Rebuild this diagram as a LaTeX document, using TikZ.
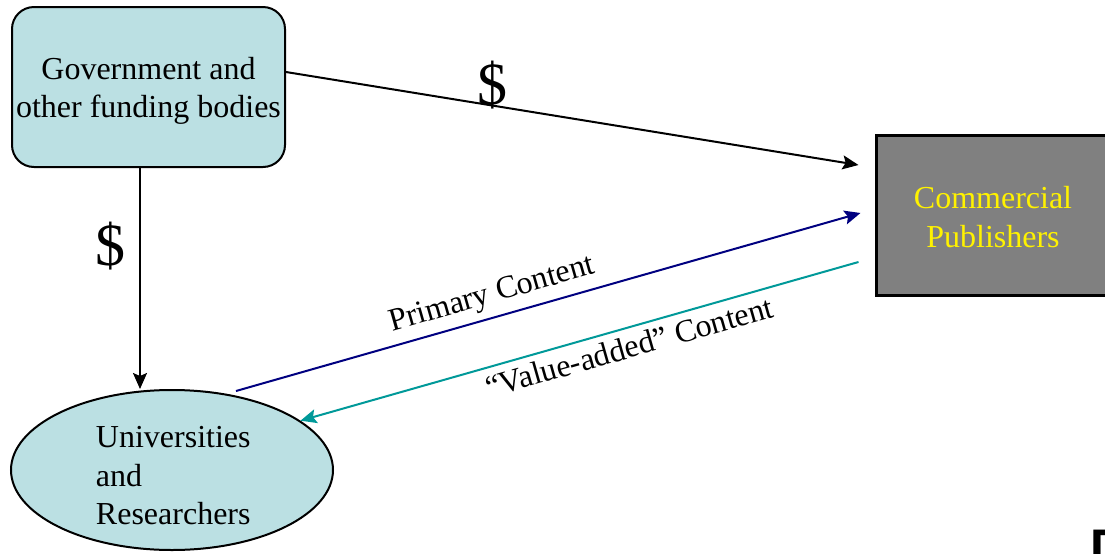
\documentclass[tikz,border=0pt]{standalone}
\usepackage{fontspec}
\setmainfont{Liberation Serif}
\newfontfamily\markfont{Liberation Sans}
\usetikzlibrary{arrows.meta,shapes.geometric}

\definecolor{paleblue}{HTML}{BBE0E3}
\definecolor{pubgray}{HTML}{808080}
\definecolor{darknavy}{HTML}{000080}
\definecolor{darkteal}{HTML}{009999}

\begin{document}
\begin{tikzpicture}[x=0.5pt,y=-0.5pt,>={Stealth[length=8pt,width=7pt,inset=1.5pt]},
                    line width=1pt,
                    main node/.style={draw,line width=1pt,align=center,inner sep=0pt,
                                      font=\fontsize{16}{19.25}\selectfont},
                    money/.style={font=\fontsize{30}{32}\selectfont,inner sep=0pt},
                    flow label/.style={sloped,font=\fontsize{16}{18.5}\selectfont}]

  \useasboundingbox (0,0) rectangle (1105,553);

  \node[main node,rounded corners=11pt,fill=paleblue,
        minimum width=136.5pt,minimum height=80pt] (gov) at (148.5,87)
        {\parbox{136pt}{\centering\baselineskip=18.75pt\vspace*{4pt}
          Government and\\other funding bodies}};
  \node[main node,ellipse,fill=paleblue,align=left,
        minimum width=161pt,minimum height=80pt] (uni) at (172,470)
        {\hspace*{4pt}\parbox{80pt}{\baselineskip=19.25pt\vspace*{6pt}
          Universities\\and\\Researchers}};
  \node[main node,line width=1.5pt,fill=pubgray,text=yellow,
        minimum width=117pt,minimum height=80pt] (pub) at (993,215)
        {\parbox{110pt}{\centering\baselineskip=19.25pt\vspace*{2pt}
          Commercial\\Publishers}};

  % stray corner mark
  \node[anchor=base west,inner sep=0pt,font=\markfont\bfseries\fontsize{25}{25}\selectfont]
        (mark) at (1089,564) {D};

  \draw[->] ([yshift=7.5pt]gov.east) -- ([xshift=-8pt,yshift=25pt]pub.west)
        node[money,pos=0.36,yshift=10pt] {\$};
  \draw[->] ([xshift=-4.25pt]gov.south) -- ([xshift=-4.25pt]gov.south |- uni.north)
        node[money,pos=0.354,xshift=-15pt] {\$};
  \draw[->,darknavy] ([xshift=32pt,yshift=-1pt]uni.north) -- ([xshift=-7pt,yshift=1pt]pub.west)
        node[flow label,pos=0.42,above,text=black] {Primary Content};
  \draw[->,darkteal] ([xshift=-8pt,yshift=-23.5pt]pub.west) -- (uni.21)
        node[flow label,pos=0.42,below,text=black] {“Value-added” Content};
\end{tikzpicture}
\end{document}
